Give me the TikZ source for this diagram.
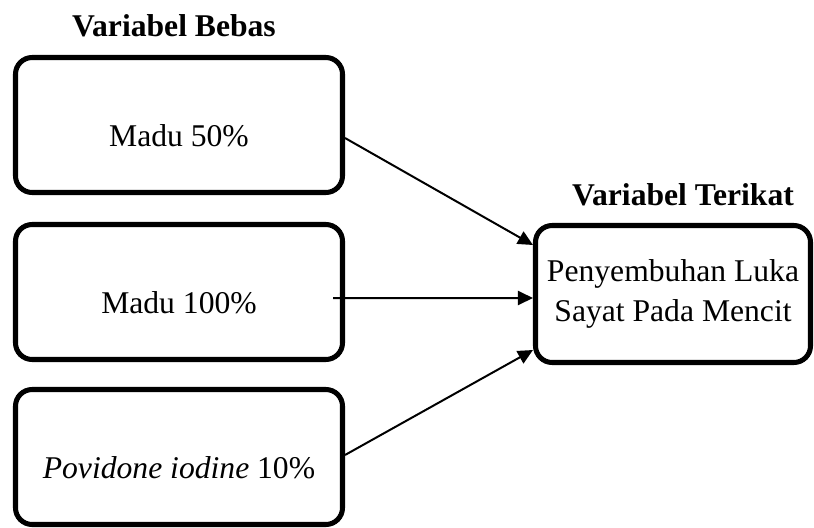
\documentclass[tikz,border=0pt]{standalone}
\usepackage{fontspec}
\setmainfont{Liberation Serif}
\usetikzlibrary{calc,arrows.meta}

\tikzset{
  varbox/.style={draw, line width=4.3pt, rounded corners=0.5cm, minimum width=9.81cm, minimum height=4.05cm, text height=1.3cm, text depth=0pt, font=\fontsize{27}{34}\selectfont},
  hasilbox/.style={draw, line width=4.3pt, rounded corners=0.5cm, minimum width=8.25cm, minimum height=4.11cm, align=center, font=\fontsize{27}{34}\selectfont},
  judul/.style={font=\fontsize{27}{34}\selectfont\bfseries},
  panah/.style={line width=1.7pt, -{Triangle[length=0.45cm, width=0.42cm]}}
}

\begin{document}
\begin{tikzpicture}
\useasboundingbox (0,0) rectangle (24.42,-15.81);
\coordinate (P) at (5.37,-3.75);
\coordinate (Q) at (5.37,-8.76);
\coordinate (R) at (5.37,-13.71);
\coordinate (S) at (20.19,-8.82);

\node[judul] (bebas) at (5.22,-0.78) {Variabel Bebas};
\node[judul] (terikat) at (20.49,-5.85) {Variabel Terikat};

\node[varbox] (m50) at (P) {Madu 50\%};
\node[varbox] (m100) at (Q) {Madu 100\%};
\node[varbox] (pov) at (R) {\textit{Povidone iodine} 10\%};
\node[hasilbox] (luka) at (S) {Penyembuhan Luka\\Sayat Pada Mencit};

\draw[panah] ($(m50.east) + (0,-0.39)$) to ($(luka.west) + (0,1.47)$);
\draw[panah] ($(m100.east) + (-0.36,-0.18)$) to ($(luka.west) + (0,-0.12)$);
\draw[panah] ($(pov.east) + (0,0.06)$) to ($(luka.west) + (0,-1.68)$);
\end{tikzpicture}
\end{document}
